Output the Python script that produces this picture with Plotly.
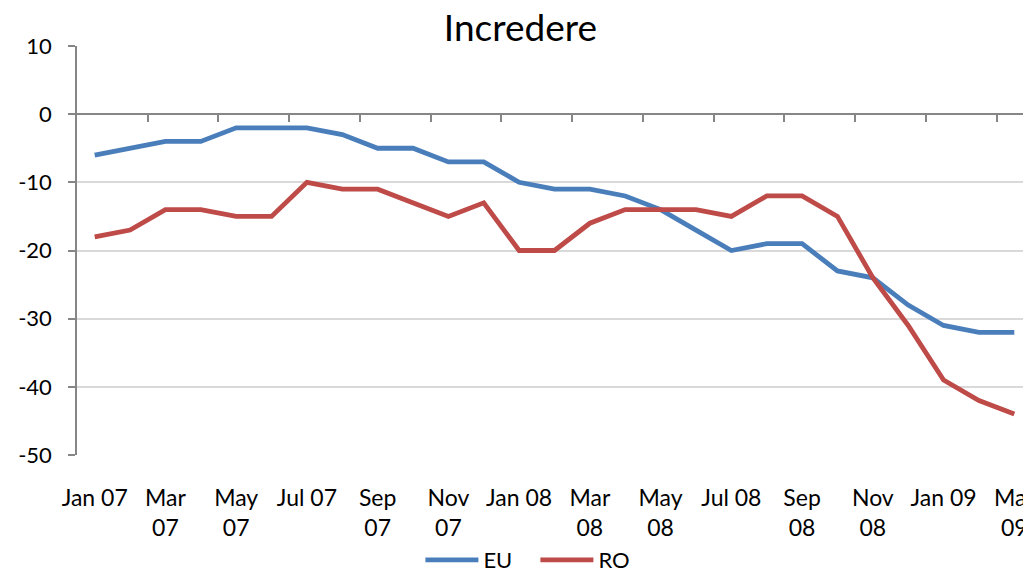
import plotly.graph_objects as go

months = ["Jan 07", "Feb 07", "Mar 07", "Apr 07", "May 07", "Jun 07", "Jul 07", "Aug 07",
          "Sep 07", "Oct 07", "Nov 07", "Dec 07", "Jan 08", "Feb 08", "Mar 08", "Apr 08",
          "May 08", "Jun 08", "Jul 08", "Aug 08", "Sep 08", "Oct 08", "Nov 08", "Dec 08",
          "Jan 09", "Feb 09", "Mar 09"]
eu = [-6, -5, -4, -4, -2, -2, -2, -3, -5, -5, -7, -7, -10, -11, -11, -12, -14, -17, -20,
      -19, -19, -23, -24, -28, -31, -32, -32]
ro = [-18, -17, -14, -14, -15, -15, -10, -11, -11, -13, -15, -13, -20, -20, -16, -14, -14,
      -14, -15, -12, -12, -15, -24, -31, -39, -42, -44]
x_labels = ["Jan 07", "Mar<br>07", "May<br>07", "Jul 07", "Sep<br>07", "Nov<br>07",
            "Jan 08", "Mar<br>08", "May<br>08", "Jul 08", "Sep<br>08", "Nov<br>08",
            "Jan 09", "Mar<br>09"]
y_ticks = [10, 0, -10, -20, -30, -40, -50]
y_labels = ["10", "0", "-10", "-20", "-30", "-40", "-50"]

FONT = "Lato, 'Open Sans', sans-serif"
idx = list(range(len(months)))

fig = go.Figure()
fig.add_trace(go.Scatter(x=idx, y=eu, name="EU", mode="lines",
                         line=dict(color="#4A7EBB", width=4.8)))
fig.add_trace(go.Scatter(x=idx, y=ro, name="RO", mode="lines",
                         line=dict(color="#BE4B48", width=4.8)))

label_pos = idx[::2]
boundary_ticks = [i + 0.5 for i in idx[1:-1:2]]

fig.update_layout(
    width=1031, height=568,
    margin=dict(l=69, r=7, t=38, b=121),
    paper_bgcolor="white", plot_bgcolor="white",
    font=dict(family=FONT, size=22, color="#000000"),
    title=dict(text="Incredere", x=0.497, xref="container", xanchor="center",
               y=0.965, yref="container", yanchor="middle",
               font=dict(size=37, family=FONT, color="#000000")),
    showlegend=True,
    legend=dict(orientation="h", x=0.4, xref="container", xanchor="left",
                y=0.028, yref="container", yanchor="middle",
                font=dict(size=22, family=FONT), bgcolor="rgba(0,0,0,0)",
                itemwidth=53, entrywidth=47),
    xaxis=dict(range=[-0.5, len(months) - 0.5], tickmode="array", automargin=False,
               tickvals=label_pos, ticktext=x_labels, ticks="outside", ticklen=22,
               tickcolor="rgba(0,0,0,0)", showgrid=False, zeroline=False,
               ticklabeloverflow="allow",
               showline=False, tickfont=dict(size=23, family=FONT)),
    xaxis2=dict(range=[-0.5, len(months) - 0.5], overlaying="x", anchor="free",
                position=50 / 60, side="bottom", tickmode="array", automargin=False,
                tickvals=boundary_ticks, showticklabels=False, ticks="outside",
                ticklen=7, tickwidth=1.5, tickcolor="#868686", showline=True,
                linecolor="#868686", linewidth=1.5, showgrid=False, zeroline=False),
    yaxis=dict(range=[-50, 10], tickmode="array", tickvals=y_ticks, ticktext=y_labels,
               ticks="outside", ticklen=7, tickwidth=1.5, tickcolor="#868686",
               automargin=False, ticklabelstandoff=12,
               showline=True, linecolor="#868686", linewidth=1.5,
               showgrid=True, gridcolor="#D9D9D9", gridwidth=1.5, zeroline=False,
               tickfont=dict(size=22, family=FONT)),
)
# dummy invisible trace to bind xaxis2
fig.add_trace(go.Scatter(x=[idx[0]], y=[eu[0]], xaxis="x2", mode="lines",
                         showlegend=False, hoverinfo="skip", line=dict(width=0)))

fig.write_html("out.html")
